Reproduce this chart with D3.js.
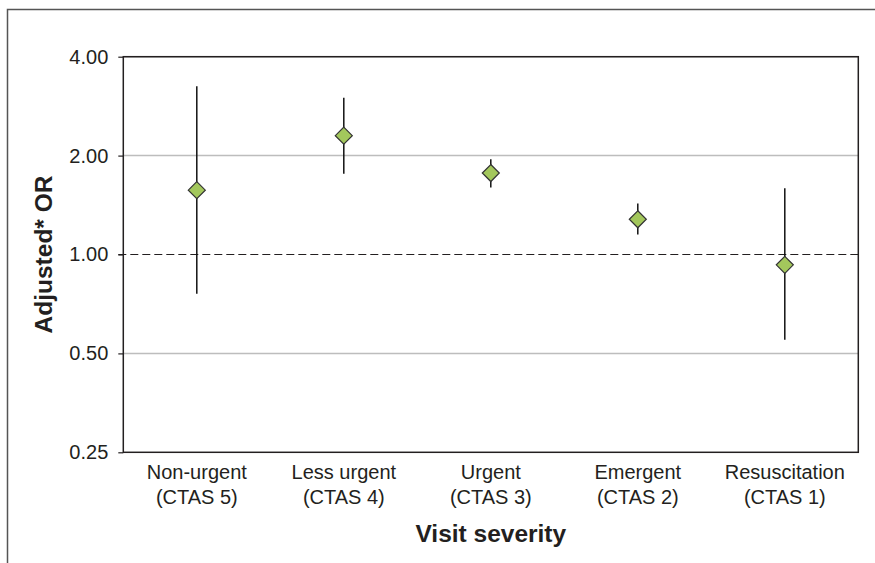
<!DOCTYPE html>
<html>
<head>
<meta charset="utf-8">
<script src="https://cdn.jsdelivr.net/npm/d3@7"></script>
<style>
  body { margin: 0; background: #fff; }
  svg text { font-family: "Liberation Sans", Arial, sans-serif; fill: #231f20; }
</style>
</head>
<body>
<div id="wrapper"></div>
<script>
// data
const categories = ["Non-urgent", "Less urgent", "Urgent", "Emergent", "Resuscitation"];
const ctasLabels = ["(CTAS 5)", "(CTAS 4)", "(CTAS 3)", "(CTAS 2)", "(CTAS 1)"];
const oddsRatio = [1.57, 2.30, 1.77, 1.28, 0.93];
const ciLower = [0.76, 1.76, 1.60, 1.15, 0.55];
const ciUpper = [3.25, 3.00, 1.95, 1.43, 1.59];
const yTicks = [0.25, 0.5, 1, 2, 4];
const gridTicks = [0.5, 2, 4];

function draw() {
    const dimensions = {
        width: 875,
        height: 563,
        margin: { top: 56.7, right: 16.7, bottom: 110.7, left: 123.3 }
    };
    dimensions.boundedWidth = dimensions.width - dimensions.margin.left - dimensions.margin.right;
    dimensions.boundedHeight = dimensions.height - dimensions.margin.top - dimensions.margin.bottom;

    const wrapper = d3.select("#wrapper")
        .append("svg")
        .attr("width", dimensions.width)
        .attr("height", dimensions.height);

    // outer frame (right and bottom edges fall outside the picture)
    wrapper.append("rect")
        .attr("x", 7.5)
        .attr("y", 9.5)
        .attr("width", 869)
        .attr("height", 600)
        .attr("fill", "none")
        .attr("stroke", "#555")
        .attr("stroke-width", 1.5);

    const bounds = wrapper.append("g")
        .attr("transform", `translate(${dimensions.margin.left},${dimensions.margin.top})`);

    const xScale = d3.scaleBand()
        .domain(categories)
        .range([0, dimensions.boundedWidth]);

    const yScale = d3.scaleLog()
        .base(2)
        .domain([0.25, 4])
        .range([dimensions.boundedHeight, 0]);

    // gridlines
    bounds.selectAll(".grid")
        .data(gridTicks)
        .enter().append("line")
        .attr("class", "grid")
        .attr("x1", 0)
        .attr("x2", dimensions.boundedWidth)
        .attr("y1", d => yScale(d))
        .attr("y2", d => yScale(d))
        .attr("stroke", "#bdbdbd")
        .attr("stroke-width", 1.5);

    // reference line at OR = 1
    bounds.append("line")
        .attr("x1", -5)
        .attr("x2", dimensions.boundedWidth)
        .attr("y1", yScale(1))
        .attr("y2", yScale(1))
        .attr("stroke", "#231f20")
        .attr("stroke-width", 1.2)
        .attr("stroke-dasharray", "8,4");

    // y axis
    const yAxisGenerator = d3.axisLeft(yScale)
        .tickValues(yTicks)
        .tickFormat(d3.format(".2f"))
        .tickSize(5)
        .tickPadding(10);

    const yAxis = bounds.append("g").call(yAxisGenerator);
    yAxis.select(".domain").remove();
    yAxis.selectAll(".tick line").attr("stroke", "#231f20").attr("stroke-width", 1.2);
    yAxis.selectAll(".tick text")
        .style("font-size", "20px")
        .attr("fill", "#231f20");

    // plot frame
    bounds.append("rect")
        .attr("width", dimensions.boundedWidth)
        .attr("height", dimensions.boundedHeight)
        .attr("fill", "none")
        .attr("stroke", "#231f20")
        .attr("stroke-width", 1.5);

    // error bars
    bounds.selectAll(".ci")
        .data(categories)
        .enter().append("line")
        .attr("class", "ci")
        .attr("x1", d => xScale(d) + xScale.bandwidth() / 2)
        .attr("x2", d => xScale(d) + xScale.bandwidth() / 2)
        .attr("y1", (d, i) => yScale(ciLower[i]))
        .attr("y2", (d, i) => yScale(ciUpper[i]))
        .attr("stroke", "#111")
        .attr("stroke-width", 1.5);

    // diamonds
    const dSize = 8.5;
    bounds.selectAll(".point")
        .data(categories)
        .enter().append("path")
        .attr("class", "point")
        .attr("transform", (d, i) => `translate(${xScale(d) + xScale.bandwidth() / 2},${yScale(oddsRatio[i])})`)
        .attr("d", `M0,${-dSize}L${dSize},0L0,${dSize}L${-dSize},0Z`)
        .attr("fill", "#a3c75c")
        .attr("stroke", "#333")
        .attr("stroke-width", 1.2);

    // category labels
    const catLabels = bounds.selectAll(".cat")
        .data(categories)
        .enter().append("text")
        .attr("class", "cat")
        .attr("text-anchor", "middle")
        .style("font-size", "20px")
        .attr("transform", d => `translate(${xScale(d) + xScale.bandwidth() / 2},${dimensions.boundedHeight})`);
    catLabels.append("tspan")
        .attr("x", 0)
        .attr("y", 27)
        .text(d => d);
    catLabels.append("tspan")
        .attr("x", 0)
        .attr("y", 52)
        .text((d, i) => ctasLabels[i]);

    // axis titles
    bounds.append("text")
        .attr("x", dimensions.boundedWidth / 2)
        .attr("y", dimensions.boundedHeight + 90)
        .attr("text-anchor", "middle")
        .style("font-size", "24.5px")
        .style("font-weight", "bold")
        .text("Visit severity");

    bounds.append("text")
        .attr("transform", `translate(${52 - dimensions.margin.left},${dimensions.boundedHeight / 2}) rotate(-90)`)
        .attr("text-anchor", "middle")
        .style("font-size", "24.5px")
        .style("font-weight", "bold")
        .text("Adjusted* OR");
}
draw();
</script>
</body>
</html>
